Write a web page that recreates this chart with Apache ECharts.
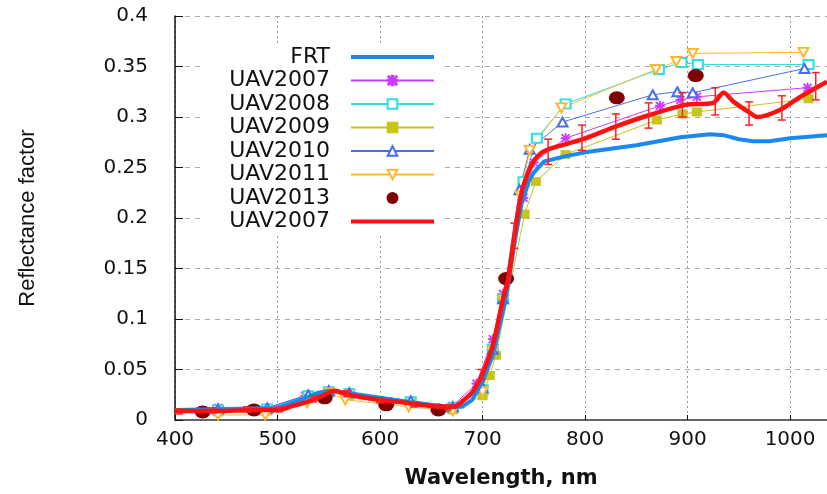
<!DOCTYPE html>
<html><head><meta charset="utf-8">
<script src="https://cdn.jsdelivr.net/npm/echarts@6/dist/echarts.min.js"></script>
<style>html,body{margin:0;padding:0;background:#fff}#c{width:827px;height:494px}</style>
</head><body><div id="c"></div>
<script>
// ---- data ----
const yTickLabels = ['0','0.05','0.1','0.15','0.2','0.25','0.3','0.35','0.4'];
const xTickLabels = ['400','500','600','700','800','900','1000'];

const frt = [[400,0.010],[450,0.011],[500,0.012],[520,0.019],[540,0.027],[550,0.029],[560,0.028],[580,0.025],[600,0.022],[620,0.019],[640,0.016],[660,0.013],[680,0.013],[690,0.020],[700,0.038],[710,0.064],[720,0.108],[725,0.134],[732,0.180],[738,0.214],[745,0.236],[750,0.245],[760,0.256],[780,0.261],[800,0.265],[850,0.272],[893,0.280],[922,0.283],[935,0.282],[950,0.278],[964,0.276],[980,0.276],[1000,0.279],[1036,0.282]];

const uav2007line = [[400,0.009],[440,0.009],[480,0.010],[500,0.010],[515,0.014],[532,0.019],[544,0.024],[556,0.029],[566,0.026],[585,0.022],[607,0.019],[625,0.017],[639,0.015],[663,0.013],[672,0.013],[681,0.019],[691,0.029],[700,0.046],[710,0.074],[720,0.120],[725,0.140],[732,0.189],[738,0.225],[743,0.241],[749,0.255],[758,0.265],[770,0.270],[798,0.278],[831,0.291],[863,0.302],[898,0.312],[925,0.314],[935,0.324],[945,0.315],[961,0.304],[968,0.300],[990,0.307],[1010,0.320],[1022,0.327],[1036,0.335]];

const uav2007errLow = [[404,0.006],[437,0.007],[470,0.008],[502,0.008],[535,0.018],[568,0.023],[600,0.017],[633,0.013],[666,0.010],[699,0.040],[731,0.170],[764,0.253],[797,0.267],[830,0.278],[862,0.289],[895,0.300],[927,0.302],[960,0.292],[992,0.297],[1025,0.317]];
const uav2007errHigh = [[404,0.011],[437,0.012],[470,0.013],[502,0.013],[535,0.024],[568,0.029],[600,0.022],[633,0.018],[666,0.015],[699,0.050],[731,0.195],[764,0.278],[797,0.292],[830,0.303],[862,0.314],[895,0.324],[927,0.329],[960,0.315],[992,0.321],[1025,0.344]];

const uav2007 = [[442,0.012],[490,0.012],[527,0.024],[550,0.029],[570,0.027],[630,0.019],[671,0.014],[694,0.036],[710,0.080],[720,0.125],[740,0.220],[750,0.255],[781,0.279],[873,0.311],[893,0.317],[909,0.320],[1017,0.329]];
const uav2008 = [[442,0.010],[490,0.011],[530,0.024],[550,0.028],[570,0.026],[630,0.018],[671,0.012],[700,0.030],[710,0.070],[720,0.120],[740,0.236],[753,0.279],[781,0.313],[872,0.347],[894,0.354],[910,0.352],[1018,0.352]];
const uav2009 = [[442,0.008],[490,0.009],[530,0.021],[550,0.027],[570,0.024],[630,0.016],[671,0.010],[700,0.024],[707,0.044],[713,0.064],[741,0.204],[752,0.236],[781,0.263],[870,0.297],[895,0.303],[909,0.305],[1018,0.318]];
const uav2010 = [[442,0.011],[490,0.012],[530,0.025],[550,0.029],[570,0.027],[630,0.019],[671,0.013],[700,0.032],[710,0.070],[720,0.120],[736,0.228],[746,0.268],[778,0.295],[866,0.322],[890,0.325],[905,0.324],[1014,0.348]];
const uav2011 = [[442,0.005],[488,0.005],[529,0.017],[550,0.027],[566,0.020],[628,0.013],[671,0.009],[700,0.028],[710,0.068],[720,0.118],[737,0.222],[746,0.267],[777,0.309],[869,0.347],[889,0.355],[905,0.363],[1013,0.364]];
const uav2013 = [[427,0.008],[477,0.010],[546,0.022],[606,0.015],[657,0.010],[723,0.140],[831,0.319],[908,0.341]];

const legendNames = ['FRT','UAV2007','UAV2008','UAV2009','UAV2010','UAV2011','UAV2013','UAV2007 '];

// ---- chart ----
const asterisk = 'path://M5.3,0L6.7,0L6.7,12L5.3,12Z M0,5.3L12,5.3L12,6.7L0,6.7Z M0.5,1.5L1.5,0.5L11.5,10.5L10.5,11.5Z M11.5,1.5L10.5,0.5L0.5,10.5L1.5,11.5Z';
const thickLine = 'path://M0,0L83,0L83,4L0,4Z';
const errBars = uav2007errLow.map((p, i) => [p[0], p[1], uav2007errHigh[i][1]]);

function markerSeries(name, data, color, symbol, size, extra) {
  return Object.assign({
    name, type: 'line', data, z: 2,
    symbol, symbolSize: size, showSymbol: true,
    lineStyle: { color, width: 1 },
    itemStyle: { color, borderColor: color, borderWidth: 1 },
    emphasis: { disabled: true }
  }, extra || {});
}

const chart = echarts.init(document.getElementById('c'), null, { renderer: 'canvas' });
chart.setOption({
  animation: false,
  backgroundColor: '#fff',
  grid: { left: 175, right: 0, top: 16, bottom: 72, containLabel: false },
  graphic: [{ type: 'rect', z: 1, shape: { x: 205, y: 44, width: 236, height: 190 }, style: { fill: '#fff' } }],
  legend: {
    orient: 'vertical', right: 392, top: 46, align: 'right',
    itemWidth: 83, itemHeight: 12, itemGap: 1.5, padding: 0,
    symbolKeepAspect: true, selectedMode: false, z: 5,
    textStyle: { fontSize: 22, fontFamily: 'DejaVu Sans', color: '#111', padding: [0, 16, 0, 0] },
    formatter: n => n.trim(),
    data: [
      { name: legendNames[0], icon: thickLine },
      legendNames[1], legendNames[2], legendNames[3], legendNames[4], legendNames[5],
      { name: legendNames[6], icon: 'circle' },
      { name: legendNames[7], icon: thickLine }
    ]
  },
  xAxis: {
    type: 'value', min: 400, max: 1036, interval: 100,
    name: 'Wavelength, nm', nameLocation: 'middle', nameGap: 48,
    nameTextStyle: { fontSize: 21, fontWeight: 'bold', fontFamily: 'DejaVu Sans', color: '#111' },
    axisLine: { lineStyle: { color: '#666', width: 2 } },
    axisTick: { inside: true, length: 5, lineStyle: { color: '#111' } },
    axisLabel: { fontSize: 20, fontFamily: 'DejaVu Sans', color: '#111', margin: 10, showMaxLabel: false,
      formatter: v => xTickLabels[Math.round((v - 400) / 100)] || '' },
    splitLine: { show: true, lineStyle: { color: '#999', type: [2, 3], width: 1 } }
  },
  yAxis: {
    type: 'value', min: 0, max: 0.4, interval: 0.05,
    name: 'Reflectance factor', nameLocation: 'middle', nameGap: 136,
    nameTextStyle: { fontSize: 22, fontFamily: 'Liberation Sans', color: '#111' },
    axisLine: { show: true, lineStyle: { color: '#111', width: 1.5 } },
    axisTick: { show: true, inside: true, length: 8, lineStyle: { color: '#111' } },
    axisLabel: { fontSize: 20, fontFamily: 'DejaVu Sans', color: '#111', margin: 27,
      formatter: v => yTickLabels[Math.round(v / 0.05)] },
    splitLine: { show: true, lineStyle: { color: '#aaa', type: [5, 5], width: 1 } }
  },
  series: [
    markerSeries(legendNames[1], uav2007, '#cc3cff', asterisk, 9),
    markerSeries(legendNames[2], uav2008, '#2ee0e0', 'emptyRect', [10, 9]),
    markerSeries(legendNames[3], uav2009, '#c8c41a', 'rect', [9, 8]),
    markerSeries(legendNames[4], uav2010, '#4a6ee8', 'emptyTriangle', [10, 9]),
    markerSeries(legendNames[5], uav2011, '#ffb732', 'emptyTriangle', [10, 9], { symbolRotate: 180 }),
    { name: legendNames[6], type: 'scatter', data: uav2013, z: 3, symbol: 'circle', symbolSize: [16, 13],
      itemStyle: { color: '#800000', opacity: 1 }, emphasis: { disabled: true } },
    { name: legendNames[0], type: 'line', data: frt, z: 4, showSymbol: false, symbol: 'none',
      lineStyle: { color: '#1a88ec', width: 4 }, itemStyle: { color: '#1a88ec' }, emphasis: { disabled: true } },
    { name: legendNames[7], type: 'line', data: uav2007line, z: 5, showSymbol: false, symbol: 'none', smooth: 0.3,
      lineStyle: { color: '#ff1010', width: 4.5 }, itemStyle: { color: '#ff1010' }, emphasis: { disabled: true } },
    { name: 'errorbars', type: 'custom', data: errBars, z: 6, encode: { x: 0, y: [1, 2] },
      renderItem: (params, api) => {
        const x = api.value(0);
        const p1 = api.coord([x, api.value(1)]);
        const p2 = api.coord([x, api.value(2)]);
        const w = 4;
        const st = { stroke: '#ff2020', lineWidth: 1.5 };
        return { type: 'group', children: [
          { type: 'line', shape: { x1: p1[0], y1: p1[1], x2: p2[0], y2: p2[1] }, style: st },
          { type: 'line', shape: { x1: p1[0] - w, y1: p1[1], x2: p1[0] + w, y2: p1[1] }, style: st },
          { type: 'line', shape: { x1: p2[0] - w, y1: p2[1], x2: p2[0] + w, y2: p2[1] }, style: st }
        ]};
      } }
  ]
});
</script></body></html>
